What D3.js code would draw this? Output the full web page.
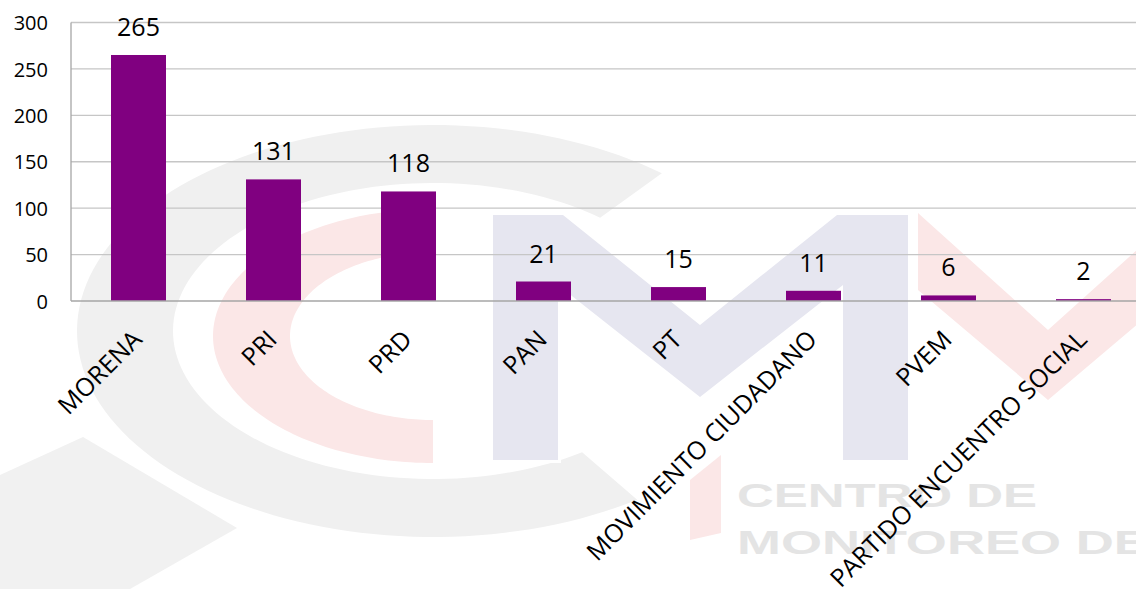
<!DOCTYPE html>
<html>
<head>
<meta charset="utf-8">
<script src="https://cdn.jsdelivr.net/npm/d3@7"></script>
<style>
html,body{margin:0;padding:0;background:#fff;}
svg{display:block;}
text{font-family:"Open Sans","Noto Sans",sans-serif;}
</style>
</head>
<body>
<svg id="chart" width="1136" height="589"></svg>
<script>
const categories = ["MORENA","PRI","PRD","PAN","PT","MOVIMIENTO CIUDADANO","PVEM","PARTIDO ENCUENTRO SOCIAL"];
const values = [265,131,118,21,15,11,6,2];
const yTicks = [0,50,100,150,200,250,300];

const W = 1136, H = 589;
const svg = d3.select("#chart");
svg.append("rect").attr("width",W).attr("height",H).attr("fill","#fff");

// ---- faint watermark (logo) ----
const wm = svg.append("g").attr("class","watermark");
function ringArc(cx,cy,rxo,ryo,rxi,ryi,a0,a1){
  const n=120, pts=[];
  for(let i=0;i<=n;i++){const a=(a0+(a1-a0)*i/n)*Math.PI/180;pts.push([cx+rxo*Math.cos(a),cy+ryo*Math.sin(a)]);}
  for(let i=n;i>=0;i--){const a=(a0+(a1-a0)*i/n)*Math.PI/180;pts.push([cx+rxi*Math.cos(a),cy+ryi*Math.sin(a)]);}
  return "M"+pts.map(p=>p.join(",")).join("L")+"Z";
}
// gray C
wm.append("path").attr("d",ringArc(433,331,356,206,260,148,55,310)).attr("fill","#f0f0f0");
// gray tail
wm.append("path").attr("d","M0,475L83,437L237,528L130,589L0,589Z").attr("fill","#f1f1f1");
// pink C
wm.append("path").attr("d",ringArc(433,336,220,127,143,84,90,265)).attr("fill","#fbe7e7");
// lavender M
wm.append("path").attr("d","M493,215L563,215L700,325L837,215L908,215L908,460L843,460L843,285L700,397L558,285L558,460L493,460Z")
  .attr("fill","#e6e6f0").attr("stroke","#fff").attr("stroke-width",6).attr("paint-order","stroke");
// pink V
wm.append("path").attr("d","M918,213L1048,330L1178,213L1178,290L1048,400L918,290Z").attr("fill","#fbe7e7");
// pink piece lower left of text
wm.append("path").attr("d","M690,480L721,455L721,533L690,540Z").attr("fill","#fbe7e7");
// text
wm.append("text").attr("x",737).attr("y",507).attr("textLength",300).attr("lengthAdjust","spacingAndGlyphs")
  .style("font-family","'Liberation Sans',Arial,sans-serif").style("font-weight","900").style("font-size","33px")
  .attr("fill","#e4e4e4").text("CENTRO DE");
wm.append("text").attr("x",737).attr("y",554).attr("textLength",412).attr("lengthAdjust","spacingAndGlyphs")
  .style("font-family","'Liberation Sans',Arial,sans-serif").style("font-weight","900").style("font-size","33px")
  .attr("fill","#e4e4e4").text("MONITOREO DE");

// ---- chart ----
const x0 = 71, x1 = 71 + 135*categories.length;
const x = d3.scaleBand().domain(categories).range([x0,x1]).paddingInner(80/135).paddingOuter(40/135);
const y = d3.scaleLinear().domain([0,300]).range([301,22.5]);

// gridlines
svg.append("g").selectAll("line").data(yTicks.filter(d=>d>0)).join("line")
  .attr("x1",x0).attr("x2",W).attr("y1",d=>y(d)).attr("y2",d=>y(d))
  .attr("stroke","#c6c6c6").attr("stroke-width",1.3);

// y axis labels
const yAxis = d3.axisLeft(y).tickValues(yTicks).tickSize(0).tickPadding(0);
const ya = svg.append("g").attr("transform",`translate(48,0)`).call(yAxis);
ya.select(".domain").remove();
ya.selectAll("text").style("font-size","20px").attr("fill","#000").attr("dy","0.36em")
  .style("font-family","'Open Sans','Noto Sans',sans-serif");

// axis lines
svg.append("line").attr("x1",x0).attr("x2",x0).attr("y1",y(300)).attr("y2",y(0)).attr("stroke","#a6a6a6").attr("stroke-width",1.3);

// bars
svg.append("g").selectAll("rect").data(values).join("rect")
  .attr("x",(d,i)=>x(categories[i])).attr("width",x.bandwidth())
  .attr("y",d=>y(d)).attr("height",d=>y(0)-y(d)).attr("fill","#800080");

svg.append("line").attr("x1",x0).attr("x2",W).attr("y1",y(0)).attr("y2",y(0)).attr("stroke","#a6a6a6").attr("stroke-width",1.5);

// value labels
svg.append("g").selectAll("text").data(values).join("text")
  .attr("x",(d,i)=>x(categories[i])+x.bandwidth()/2).attr("y",d=>y(d)-19)
  .attr("text-anchor","middle").style("font-size","25px").attr("fill","#000").text(d=>d);

// category labels
const xAxis = d3.axisBottom(x).tickSize(0).tickPadding(0);
const xa = svg.append("g").attr("transform",`translate(0,${y(0)})`).call(xAxis);
xa.select(".domain").remove();
xa.selectAll("text").attr("text-anchor","end").attr("dy",0).attr("y",0).attr("x",0)
  .attr("transform","translate(5,40) rotate(-45)")
  .style("font-size","25px").attr("fill","#000").style("font-family","'Open Sans','Noto Sans',sans-serif");
</script>
</body>
</html>
